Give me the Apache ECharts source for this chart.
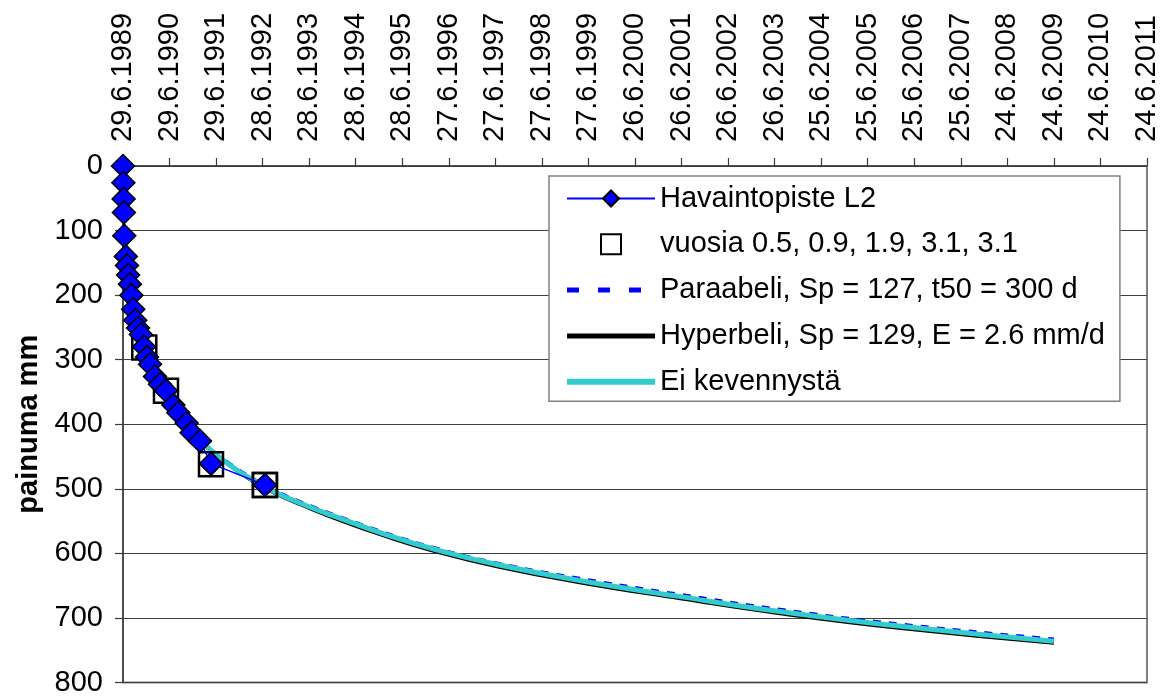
<!DOCTYPE html>
<html>
<head>
<meta charset="utf-8">
<script src="https://cdn.jsdelivr.net/npm/echarts@6/dist/echarts.min.js"></script>
<style>
html, body { margin: 0; padding: 0; background: #fff; }
#main { width: 1162px; height: 697px; }
</style>
</head>
<body>
<div id="main"></div>
<script>
// top axis tick labels (one every 365 days from 29.6.1989)
var xTickLabels = ['29.6.1989', '29.6.1990', '29.6.1991', '28.6.1992', '28.6.1993', '28.6.1994',
    '28.6.1995', '27.6.1996', '27.6.1997', '27.6.1998', '27.6.1999', '26.6.2000', '26.6.2001',
    '26.6.2002', '26.6.2003', '25.6.2004', '25.6.2005', '25.6.2006', '25.6.2007', '24.6.2008',
    '24.6.2009', '24.6.2010', '24.6.2011'];

// observations L2 (days from 29.6.1989, mm)
var obsDays = [0, 3, 5, 7, 10, 22, 31, 40, 54, 66, 80, 96, 118, 140, 165, 188, 212, 251, 290, 337, 395, 434, 499, 538, 604, 690, 1113];
var obsMm   = [0, 26, 51, 72, 108, 140, 154, 169, 183, 200, 222, 239, 251, 261, 280, 296, 307, 326, 338, 348, 370, 382, 398, 413, 426, 461, 494];

// squares "vuosia 0.5, 0.9, 1.9, 3.1, 3.1"
var markDays = [167, 337, 690, 1113, 1113];
var markMm   = [281, 348, 462, 494, 494];

// fitted curves
var curveDays = [10, 40, 80, 130, 200, 300, 400, 500, 600, 700, 850, 1000, 1200, 1450, 1650, 2050, 2450, 2950, 3580, 4370, 5150, 6100, 7300];
var paraMm    = [108, 165, 215, 252, 296, 343, 376, 402, 423, 441, 463, 482, 504, 525, 540, 568, 592, 616, 639, 664, 687, 710, 733];
var hyperMm   = [108, 165, 215, 252, 296, 343, 376, 402, 424, 443, 466, 486, 508, 529, 545, 573, 597, 621, 645, 670, 693, 716, 739];
var eiKevMm   = [108, 165, 215, 252, 296, 343, 376, 402, 424, 442, 465, 484, 506, 527, 542, 570, 594, 618, 642, 667, 690, 713, 736];

function pairs(xs, ys) {
    var out = [];
    for (var i = 0; i < xs.length; i++) {
        out.push([xs[i], ys[i]]);
    }
    return out;
}

var font = 'Liberation Sans';
var names = ['Havaintopiste L2', 'vuosia 0.5, 0.9, 1.9, 3.1, 3.1', 'Paraabeli, Sp = 127, t50 = 300 d',
    'Hyperbeli, Sp = 129, E = 2.6 mm/d', 'Ei kevennystä'];

var option = {
    backgroundColor: '#fff',
    animation: false,
    grid: {
        left: 123, right: 15, top: 166, bottom: 11,
        show: true, borderColor: '#808080', borderWidth: 2, backgroundColor: '#fff'
    },
    legend: {
        orient: 'vertical',
        left: 549, top: 176,
        padding: [8, 15, 5, 17],
        itemWidth: 88, itemHeight: 20, itemGap: 16.8,
        backgroundColor: '#fff', borderColor: '#808080', borderWidth: 1.5,
        textStyle: { fontFamily: font, fontSize: 29, color: '#000' },
        data: [
            { name: names[0] },
            { name: names[1], icon: 'path://M0,0H10V10H0Z' },
            { name: names[2], icon: 'path://M0,0H12V5H0Z M31,0H43V5H31Z M62,0H74V5H62Z M88,0L88,5' },
            { name: names[3], icon: 'path://M0,0H88V5H0Z' },
            { name: names[4], icon: 'path://M0,0H88V6H0Z' }
        ]
    },
    xAxis: {
        type: 'value',
        position: 'top',
        min: 0, max: 8030, interval: 365,
        axisLine: { lineStyle: { color: '#3c3c3c', width: 1.5 } },
        axisTick: { length: 8, lineStyle: { color: '#3c3c3c', width: 1.2 } },
        splitLine: { show: false },
        axisLabel: {
            rotate: 90, margin: 24,
            fontFamily: font, fontSize: 29, color: '#000',
            formatter: function (v) { return xTickLabels[Math.round(v / 365)]; }
        }
    },
    yAxis: {
        type: 'value',
        inverse: true,
        min: 0, max: 800, interval: 100,
        name: 'painuma mm',
        nameLocation: 'middle',
        nameRotate: 90,
        nameGap: 80,
        nameTextStyle: { fontFamily: font, fontSize: 29, fontWeight: 'bold', color: '#000' },
        axisLine: { lineStyle: { color: '#3c3c3c', width: 1.5 } },
        axisTick: { length: 8, lineStyle: { color: '#3c3c3c', width: 1.2 } },
        splitLine: { lineStyle: { color: '#404040', width: 1 } },
        axisLabel: { margin: 20, fontFamily: font, fontSize: 29, color: '#000' }
    },
    series: [
        {
            name: names[0], type: 'line', z: 5,
            data: pairs(obsDays, obsMm),
            symbol: 'diamond', symbolSize: 23,
            itemStyle: { color: '#0000ff', borderColor: '#000', borderWidth: 1.5 },
            lineStyle: { color: '#0000ff', width: 1.5 }
        },
        {
            name: names[1], type: 'scatter', z: 4,
            data: pairs(markDays, markMm),
            symbol: 'rect', symbolSize: 24,
            itemStyle: { color: 'rgba(0,0,0,0)', borderColor: '#000', borderWidth: 2.5, opacity: 1 }
        },
        {
            name: names[2], type: 'line', z: 2, smooth: true, symbol: 'none',
            data: pairs(curveDays, paraMm),
            itemStyle: { color: '#0000ff' },
            lineStyle: { color: '#0000ff', width: 3.5, type: [8, 8] }
        },
        {
            name: names[3], type: 'line', z: 2, smooth: true, symbol: 'none',
            data: pairs(curveDays, hyperMm),
            itemStyle: { color: '#000' },
            lineStyle: { color: '#000', width: 3.5 }
        },
        {
            name: names[4], type: 'line', z: 3, smooth: true, symbol: 'none',
            data: pairs(curveDays, eiKevMm),
            itemStyle: { color: '#33cccc' },
            lineStyle: { color: '#33cccc', width: 5 }
        }
    ]
};

var myChart = echarts.init(document.getElementById('main'), null, { renderer: 'canvas' });
myChart.setOption(option);
</script>
</body>
</html>
